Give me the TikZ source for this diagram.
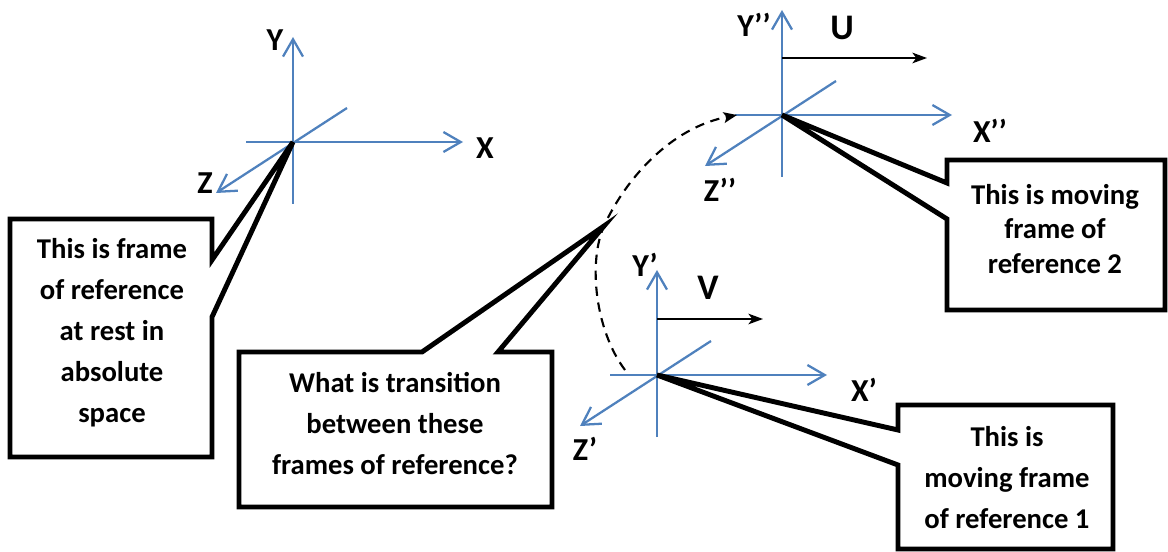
\documentclass[tikz,border=0pt]{standalone}
\usepackage{fontspec}
\setmainfont{Carlito}
\usepackage{tikz}
\usetikzlibrary{arrows.meta}

\definecolor{axisblue}{RGB}{79,129,189}

\tikzset{
  axis/.style={axisblue, line width=1.7pt,
    -{Straight Barb[length=13pt,width=15pt]}},
  velo/.style={black, line width=1.3pt,
    -{Stealth[length=11pt,width=8pt,inset=3pt]}},
  callout/.style={draw=black, fill=white, line width=3.7pt},
  boxtext/.style={font=\bfseries\fontsize{21.5}{30.75}\selectfont, align=center},
  axlabel/.style={font=\bfseries\fontsize{24}{26}\selectfont}
}

\begin{document}
\begin{tikzpicture}[x=0.75pt, y=-0.75pt]
  \useasboundingbox (0,0) rectangle (1168,552);

  % origins of the three frames
  \coordinate (rest) at (293,142);
  \coordinate (movB) at (782,115);
  \coordinate (movA) at (657,375);
  \coordinate (tip) at (604,226);

  % axes
  \foreach \o in {rest,movA,movB} {
    \draw[axis] (\o) ++(0,62) -- ++(0,-167);
    \draw[axis] (\o) ++(-47,0) -- ++(217,0);
    \draw[axis] (\o) ++(54,-34) -- ++(-131,85);
  }

  % velocities
  \draw[velo] (movB) ++(0,-57) -- ++(145,0);
  \draw[velo] (movA) ++(0,-56) -- ++(106,0);

  % callouts
  \draw[callout] (10,219) -- (212,219) -- (212,260) -- (rest) -- (212,317)
    -- (212,457) -- (10,457) -- cycle;
  \draw[callout] (239,352) -- (422,352) -- (tip) -- (498,352) -- (552,352)
    -- (552,507) -- (239,507) -- cycle;
  \draw[callout] (947,160) -- (1165,160) -- (1165,310) -- (947,310) -- (947,219)
    -- (movB) -- (947,183) -- cycle;
  \draw[callout] (898,405) -- (1113,405) -- (1113,549) -- (898,549) -- (898,465)
    -- (movA) -- (898,430) -- cycle;

  % transition
  \draw[black, line width=1.6pt, dash pattern=on 7pt off 5pt,
        -{Stealth[length=10pt,width=8pt,inset=2pt]}]
    (625,370) .. controls (595,330) and (588,262) .. (tip)
    .. controls (625,180) and (670,128) .. (737,115);

  % labels
  \node[axlabel] (ly)  at (275,40)  {Y};
  \node[axlabel] (lx)  at (485,148) {X};
  \node[axlabel] (lz)  at (205,183) {Z};
  \node[axlabel] (ly2) at (754,25)  {Y’’};
  \node[axlabel] (lx2) at (990,131) {X’’};
  \node[axlabel] (lz2) at (720,190) {Z’’};
  \node[axlabel] (ly1) at (645,265) {Y’};
  \node[axlabel] (lx1) at (864,390) {X’};
  \node[axlabel] (lz1) at (585,449) {Z’};
  \node[axlabel, font=\bfseries\fontsize{27}{28}\selectfont] (lu) at (842,28)  {U};
  \node[axlabel, font=\bfseries\fontsize{27}{28}\selectfont] (lv) at (708,288) {V};

  \node[boxtext] (trest) at (112,333)
    {This is frame\\of reference\\at rest in\\absolute\\space};
  \node[boxtext] (ttrans) at (395,424)
    {What is transition\\between these\\frames of reference?};
  \node[boxtext, font=\bfseries\fontsize{21.5}{26}\selectfont] (tmovB) at (1055,229)
    {This is moving\\frame of\\reference 2};
  \node[boxtext] (tmovA) at (1007,478)
    {This is\\moving frame\\of reference 1};
\end{tikzpicture}
\end{document}
